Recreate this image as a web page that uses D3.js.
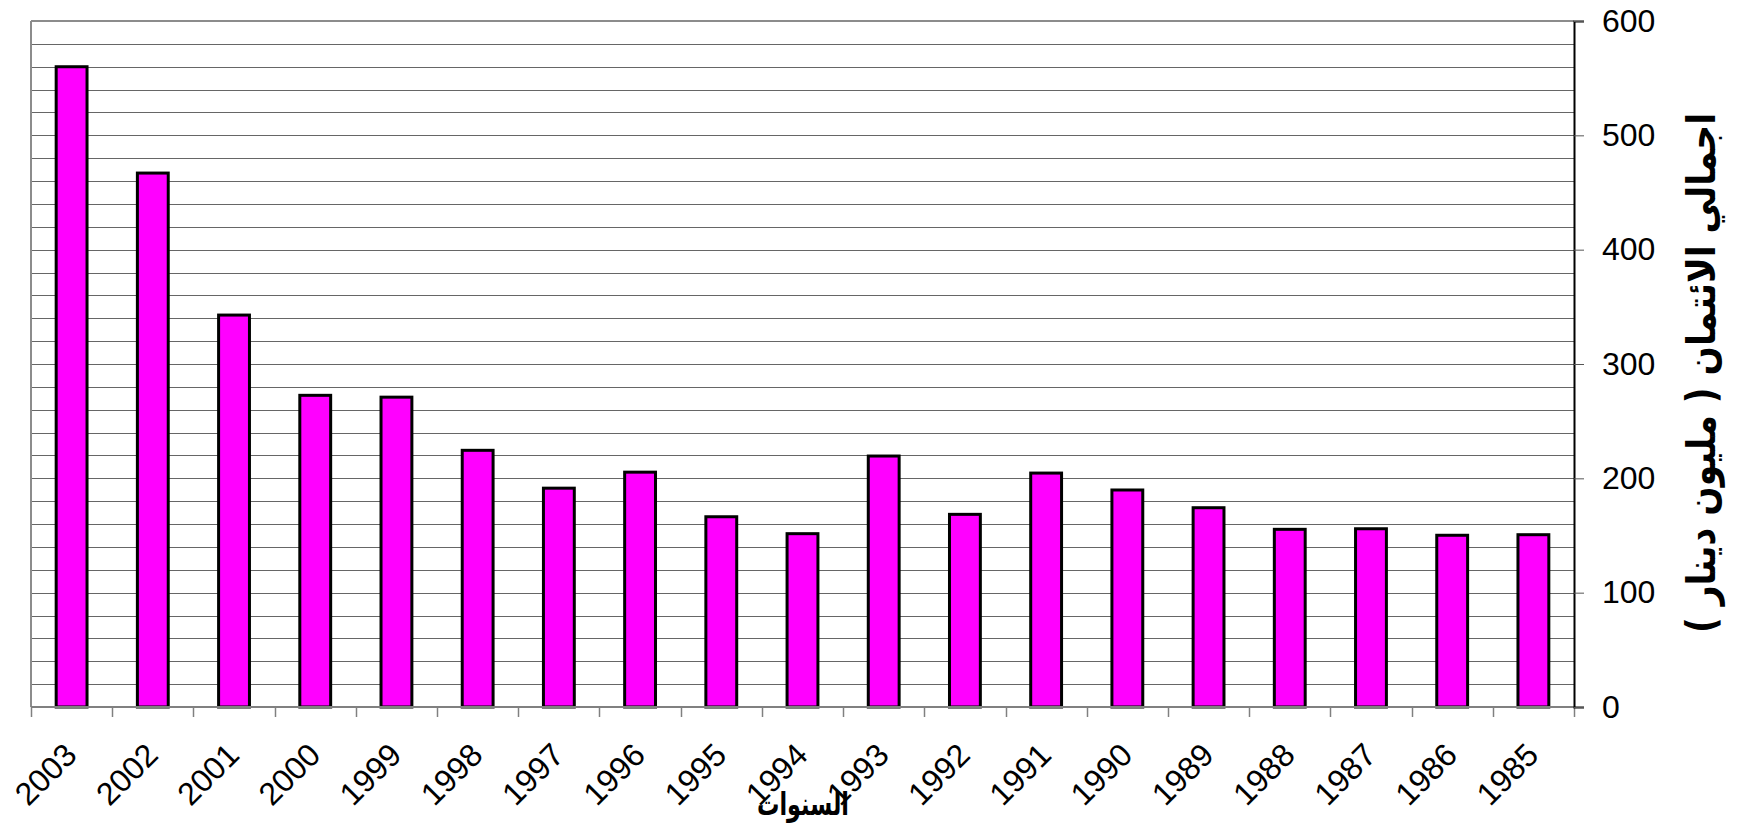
<!DOCTYPE html>
<html>
<head>
<meta charset="utf-8">
<script src="https://cdn.jsdelivr.net/npm/d3@7"></script>
<style>
  body { margin: 0; background: #ffffff; }
  svg { display: block; }
</style>
</head>
<body>
<svg class="chart"></svg>
<script>
// years as they appear left to right
var years = ["2003", "2002", "2001", "2000", "1999", "1998", "1997", "1996", "1995", "1994",
             "1993", "1992", "1991", "1990", "1989", "1988", "1987", "1986", "1985"]
// total credit (million dinar)
var credit = [560, 467, 342.8, 272.6, 271, 224.5, 191.4, 205.4, 166.4, 151.6,
              219.5, 168.5, 204.6, 189.8, 174.3, 155.4, 155.9, 150.2, 150.7]
var yTicks = [0, 100, 200, 300, 400, 500, 600]
var gridStep = 20
var yTitle = "اجمالي الائتمان ( مليون دينار )"
var xTitle = "السنوات"

var screen = { width: 1746, height: 827 }
var plot = { left: 31, right: 1574, top: 21, bottom: 707 }

var svg = d3.select('.chart')
    .attr('width', screen.width)
    .attr('height', screen.height)

var data = years.map(function(y, i) { return { year: y, value: credit[i] } })

var x = d3.scaleBand()
    .domain(years)
    .range([plot.left, plot.right])
    .padding(0)

var y = d3.scaleLinear()
    .domain([0, 600])
    .range([plot.bottom, plot.top])

// horizontal grid lines
svg.append('g')
    .selectAll('line')
    .data(d3.range(0, 600, gridStep))
    .enter()
    .append('line')
    .attr('x1', plot.left)
    .attr('x2', plot.right)
    .attr('y1', function(d) { return Math.round(y(d)) + 0.5 })
    .attr('y2', function(d) { return Math.round(y(d)) + 0.5 })
    .attr('stroke', '#666666')
    .attr('stroke-width', 1)

// top and left border of the plot area
svg.append('line')
    .attr('x1', plot.left).attr('x2', plot.right)
    .attr('y1', plot.top).attr('y2', plot.top)
    .attr('stroke', '#8c8c8c').attr('stroke-width', 2)
svg.append('line')
    .attr('x1', plot.left).attr('x2', plot.left)
    .attr('y1', plot.top).attr('y2', plot.bottom)
    .attr('stroke', '#8c8c8c').attr('stroke-width', 2)

// bars
var barW = x.bandwidth() * 0.38
svg.append('g')
    .selectAll('rect')
    .data(data)
    .enter()
    .append('rect')
    .attr('x', function(d) { return x(d.year) + x.bandwidth() / 2 - barW / 2 })
    .attr('y', function(d) { return y(d.value) })
    .attr('width', barW)
    .attr('height', function(d) { return y(0) - y(d.value) })
    .attr('fill', '#ff00ff')
    .attr('stroke', '#000000')
    .attr('stroke-width', 3)

// x axis: line + ticks between categories
svg.append('line')
    .attr('x1', plot.left).attr('x2', plot.right)
    .attr('y1', plot.bottom).attr('y2', plot.bottom)
    .attr('stroke', '#808080').attr('stroke-width', 2)

var bounds = years.map(function(d) { return x(d) }).concat([plot.right])
svg.append('g')
    .selectAll('line')
    .data(bounds)
    .enter()
    .append('line')
    .attr('x1', function(d) { return Math.round(d) + 0.5 })
    .attr('x2', function(d) { return Math.round(d) + 0.5 })
    .attr('y1', plot.bottom)
    .attr('y2', plot.bottom + 10)
    .attr('stroke', '#808080')
    .attr('stroke-width', 1.5)

svg.append('g')
    .selectAll('text')
    .data(years)
    .enter()
    .append('text')
    .attr('transform', function(d) {
        return 'translate(' + (x(d) + x.bandwidth() / 2 + 7) + ',757) rotate(-45)'
    })
    .attr('text-anchor', 'end')
    .attr('font-family', 'Liberation Sans, Arial, sans-serif')
    .attr('font-size', 32)
    .attr('fill', '#000')
    .text(function(d) { return d })

// right y axis
var yAxis = d3.axisRight(y)
    .tickValues(yTicks)
    .tickSize(10)
    .tickPadding(18)
    .tickFormat(d3.format('d'))

var yG = svg.append('g')
    .attr('transform', 'translate(' + plot.right + ',0)')
    .call(yAxis)
yG.select('.domain').attr('stroke', '#000').attr('stroke-width', 2)
yG.selectAll('.tick line').attr('stroke', '#555')
yG.selectAll('.tick text')
    .attr('font-family', 'Liberation Sans, Arial, sans-serif')
    .attr('font-size', 32)
    .attr('fill', '#000')

// axis titles
svg.append('text')
    .attr('transform', 'translate(1704,373) rotate(-90)')
    .attr('text-anchor', 'middle')
    .attr('dominant-baseline', 'middle')
    .attr('font-family', 'DejaVu Sans, sans-serif')
    .attr('font-weight', 'bold')
    .attr('font-size', 40)
    .attr('textLength', 520)
    .attr('lengthAdjust', 'spacingAndGlyphs')
    .attr('direction', 'rtl')
    .text(yTitle)

svg.append('text')
    .attr('x', 803)
    .attr('y', 815)
    .attr('text-anchor', 'middle')
    .attr('font-family', 'DejaVu Sans, sans-serif')
    .attr('font-weight', 'bold')
    .attr('font-size', 32)
    .attr('textLength', 92)
    .attr('lengthAdjust', 'spacingAndGlyphs')
    .attr('direction', 'rtl')
    .text(xTitle)
</script>
</body>
</html>
